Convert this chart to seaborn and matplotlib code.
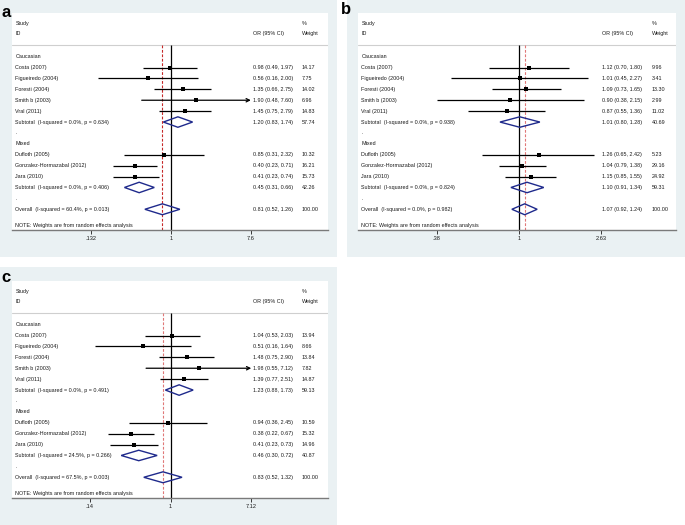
import matplotlib
matplotlib.use("Agg")
import matplotlib.pyplot as plt
import matplotlib.transforms as mtransforms
from matplotlib.patches import Rectangle, Polygon
from matplotlib.ticker import NullLocator
import pandas as pd
import seaborn as sns

# ----------------------------------------
# Data
# ----------------------------------------

groups = ["Caucasian", "Mixed"]
group_sizes = [5, 3]
studies = ["Costa (2007)", "Figueiredo (2004)", "Foresti (2004)", "Smith b (2003)",
           "Vral (2011)", "Dufloth (2005)", "Gonzalez-Hormazabal (2012)", "Jara (2010)"]

# panel a
a_or = [0.98, 0.56, 1.35, 1.90, 1.45, 0.85, 0.40, 0.41]
a_lo = [0.49, 0.16, 0.66, 0.48, 0.75, 0.31, 0.23, 0.23]
a_hi = [1.97, 2.00, 2.75, 7.60, 2.79, 2.32, 0.71, 0.74]
a_wt = [14.17, 7.75, 14.02, 6.96, 14.83, 10.32, 16.21, 15.73]
a_sub_or = [1.20, 0.45]
a_sub_lo = [0.83, 0.31]
a_sub_hi = [1.74, 0.66]
a_sub_wt = [57.74, 42.26]
a_sub_i2 = ["0.0%", "0.0%"]
a_sub_p = ["0.634", "0.406"]
a_all = [0.81, 0.52, 1.26, 100.00]
a_all_i2 = "60.4%"
a_all_p = "0.013"
a_ticks = [0.132, 1, 7.6]
a_ticklabels = [".132", "1", "7.6"]

# panel b
b_or = [1.12, 1.01, 1.09, 0.90, 0.87, 1.26, 1.04, 1.15]
b_lo = [0.70, 0.45, 0.73, 0.38, 0.55, 0.65, 0.79, 0.85]
b_hi = [1.80, 2.27, 1.65, 2.15, 1.36, 2.42, 1.38, 1.55]
b_wt = [9.96, 3.41, 13.30, 2.99, 11.02, 5.23, 29.16, 24.92]
b_sub_or = [1.01, 1.10]
b_sub_lo = [0.80, 0.91]
b_sub_hi = [1.28, 1.34]
b_sub_wt = [40.69, 59.31]
b_sub_i2 = ["0.0%", "0.0%"]
b_sub_p = ["0.938", "0.824"]
b_all = [1.07, 0.92, 1.24, 100.00]
b_all_i2 = "0.0%"
b_all_p = "0.982"
b_ticks = [0.38, 1, 2.63]
b_ticklabels = [".38", "1", "2.63"]

# panel c
c_or = [1.04, 0.51, 1.48, 1.98, 1.39, 0.94, 0.38, 0.41]
c_lo = [0.53, 0.16, 0.75, 0.55, 0.77, 0.36, 0.22, 0.23]
c_hi = [2.03, 1.64, 2.90, 7.12, 2.51, 2.45, 0.67, 0.73]
c_wt = [13.94, 8.66, 13.84, 7.82, 14.87, 10.59, 15.32, 14.96]
c_sub_or = [1.23, 0.46]
c_sub_lo = [0.88, 0.30]
c_sub_hi = [1.73, 0.72]
c_sub_wt = [59.13, 40.87]
c_sub_i2 = ["0.0%", "24.5%"]
c_sub_p = ["0.491", "0.266"]
c_all = [0.83, 0.52, 1.32, 100.00]
c_all_i2 = "67.5%"
c_all_p = "0.003"
c_ticks = [0.14, 1, 7.12]
c_ticklabels = [".14", "1", "7.12"]

# ----------------------------------------
# Style
# ----------------------------------------

sns.set_theme(style="white")
plt.rcParams["font.family"] = ["Liberation Sans", "DejaVu Sans"]

W, H = 685, 525
BG = "#eaf1f3"
TXT = "#1a1a1a"
NAVY = "#1f2a8c"
FS = 3.9


def fig_box(x0, y0, x1, y1):
    """pixel box (top-left origin) -> figure fraction rect"""
    return [x0 / W, 1 - y1 / H, (x1 - x0) / W, (y1 - y0) / H]


def draw_panel(ax, o, lo, hi, wt, s_or, s_lo, s_hi, s_wt, s_i2, s_p,
               overall, all_i2, all_p, ticks, ticklabels, xlim, dash_col, col_or, col_wt):
    ybot, ytop = 15.9, -4.0
    ax.set_xscale("log")
    ax.set_xlim(*xlim)
    ax.set_ylim(ybot, ytop)
    ax.set_facecolor("white")
    for side in ["top", "left", "right"]:
        ax.spines[side].set_visible(False)
    ax.spines["bottom"].set_color("#7a7a7a")
    ax.spines["bottom"].set_linewidth(1.0)
    ax.set_yticks([])
    ax.set_xticks(ticks)
    ax.set_xticklabels(ticklabels)
    ax.xaxis.set_minor_locator(NullLocator())
    ax.tick_params(axis="x", direction="out", length=3, width=0.6, color=TXT,
                   labelsize=FS + 0.2, labelcolor=TXT, pad=1.5, bottom=True)

    tr = mtransforms.blended_transform_factory(ax.transAxes, ax.transData)
    kw = dict(fontsize=FS, color=TXT, va="center", transform=tr)

    # header
    ax.text(0.011, -3.0, "Study", **kw)
    ax.text(0.011, -2.1, "ID", **kw)
    ax.text(col_or, -2.1, "OR (95% CI)", **kw)
    ax.text(col_wt, -3.0, "%", **kw)
    ax.text(col_wt, -2.1, "Weight", **kw)
    ax.axhline(-1.05, color="#cfcfcf", lw=0.8)

    # reference lines
    ax.vlines(1, -1.05, ybot, color="black", lw=0.9, zorder=2)
    ax.vlines(overall[0], -1.05, ybot, color=dash_col, lw=0.8,
              linestyles=(0, (2.5, 1.5)), zorder=2)

    rows = []
    row = 0
    k = 0
    for g, (name, n) in enumerate(zip(groups, group_sizes)):
        ax.text(0.011, row, name, **kw)
        row += 1
        for _ in range(n):
            rows.append(row)
            ax.text(0.011, row, studies[k], **kw)
            ax.text(col_or, row, f"{o[k]:.2f} ({lo[k]:.2f}, {hi[k]:.2f})", **kw)
            ax.text(col_wt, row, f"{wt[k]:.2f}", **kw)
            right = min(hi[k], ticks[-1])
            left = max(lo[k], ticks[0])
            if hi[k] >= ticks[-1]:
                ax.annotate("", xy=(right, row), xytext=(left, row),
                            arrowprops=dict(arrowstyle="->", lw=0.9, color="black",
                                            shrinkA=0, shrinkB=0, mutation_scale=6))
            else:
                ax.hlines(row, left, right, color="black", lw=0.9, zorder=3)
            row += 1
            k += 1
        # subtotal diamond
        ax.text(0.011, row, f"Subtotal  (I-squared = {s_i2[g]}, p = {s_p[g]})", **kw)
        ax.text(col_or, row, f"{s_or[g]:.2f} ({s_lo[g]:.2f}, {s_hi[g]:.2f})", **kw)
        ax.text(col_wt, row, f"{s_wt[g]:.2f}", **kw)
        ax.add_patch(Polygon([(s_lo[g], row), (s_or[g], row - 0.48), (s_hi[g], row),
                              (s_or[g], row + 0.48)], closed=True, fill=False,
                             edgecolor=NAVY, lw=1.0, zorder=4))
        row += 1
        ax.text(0.011, row, ".", **kw)
        row += 1

    # overall
    ax.text(0.011, row, f"Overall  (I-squared = {all_i2}, p = {all_p})", **kw)
    ax.text(col_or, row, f"{overall[0]:.2f} ({overall[1]:.2f}, {overall[2]:.2f})", **kw)
    ax.text(col_wt, row, f"{overall[3]:.2f}", **kw)
    ax.add_patch(Polygon([(overall[1], row), (overall[0], row - 0.5), (overall[2], row),
                          (overall[0], row + 0.5)], closed=True, fill=False,
                         edgecolor=NAVY, lw=1.0, zorder=4))
    ax.text(0.011, 15.5, "NOTE: Weights are from random effects analysis", **kw)

    pts = pd.DataFrame({"OR": o, "row": rows})
    sns.scatterplot(data=pts, x="OR", y="row", marker="s", s=7, color="black",
                    linewidth=0, ax=ax, zorder=5)
    ax.set_xlabel("")
    ax.set_ylabel("")


fig = plt.figure(figsize=(W / 100, H / 100), dpi=100)
fig.patch.set_facecolor("white")

# grey graph regions
for x0, y0, x1, y1 in [(0, 0, 337, 257), (347, 0, 685, 257), (0, 267, 337, 525)]:
    fig.add_artist(Rectangle((x0 / W, 1 - y1 / H), (x1 - x0) / W, (y1 - y0) / H,
                             transform=fig.transFigure, facecolor=BG, edgecolor="none",
                             zorder=0))

ax_a = fig.add_axes(fig_box(12, 13, 328, 230))
ax_b = fig.add_axes(fig_box(358, 13, 676, 230))
ax_c = fig.add_axes(fig_box(12, 281, 328, 498))

draw_panel(ax_a, a_or, a_lo, a_hi, a_wt, a_sub_or, a_sub_lo, a_sub_hi, a_sub_wt,
           a_sub_i2, a_sub_p, a_all, a_all_i2, a_all_p, a_ticks, a_ticklabels,
           (0.018, 53.6), "#c62828", 0.762, 0.917)
draw_panel(ax_b, b_or, b_lo, b_hi, b_wt, b_sub_or, b_sub_lo, b_sub_hi, b_sub_wt,
           b_sub_i2, b_sub_p, b_all, b_all_i2, b_all_p, b_ticks, b_ticklabels,
           (0.150, 6.37), "#e07878", 0.766, 0.924)
draw_panel(ax_c, c_or, c_lo, c_hi, c_wt, c_sub_or, c_sub_lo, c_sub_hi, c_sub_wt,
           c_sub_i2, c_sub_p, c_all, c_all_i2, c_all_p, c_ticks, c_ticklabels,
           (0.021, 46.2), "#e07878", 0.762, 0.917)

# panel letters
fig.text(1 / W, 1 - 5 / H, "a", fontsize=12, fontweight="bold", va="top", color="black")
fig.text(341 / W, 1 - 2 / H, "b", fontsize=12, fontweight="bold", va="top", color="black")
fig.text(1 / W, 1 - 270 / H, "c", fontsize=12, fontweight="bold", va="top", color="black")

fig.savefig("out.png", dpi=100)
